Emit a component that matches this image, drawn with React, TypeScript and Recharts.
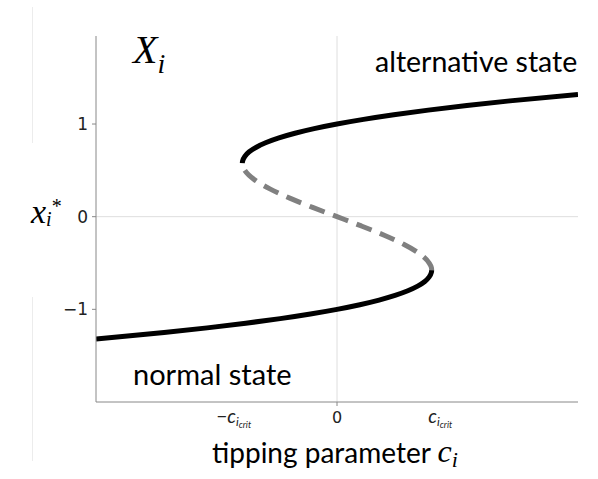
import React from 'react';
import { LineChart, Line, XAxis, YAxis, ReferenceLine } from 'recharts';

// equilibrium x* versus tipping parameter c, ordered by x* (bottom to top)
const lowerBranch = [
  { c: -0.98, x: -1.32 },
  { c: -0.703, x: -1.25 },
  { c: -0.528, x: -1.2 },
  { c: -0.371, x: -1.15 },
  { c: -0.231, x: -1.1 },
  { c: -0.108, x: -1.05 },
  { c: 0, x: -1.0 },
  { c: 0.093, x: -0.95 },
  { c: 0.171, x: -0.9 },
  { c: 0.236, x: -0.85 },
  { c: 0.288, x: -0.8 },
  { c: 0.328, x: -0.75 },
  { c: 0.357, x: -0.7 },
  { c: 0.375, x: -0.65 },
  { c: 0.384, x: -0.6 },
  { c: 0.385, x: -0.577 },
];

const middleBranch = [
  { c: 0.385, x: -0.577 },
  { c: 0.384, x: -0.55 },
  { c: 0.375, x: -0.5 },
  { c: 0.336, x: -0.4 },
  { c: 0.273, x: -0.3 },
  { c: 0.192, x: -0.2 },
  { c: 0.099, x: -0.1 },
  { c: 0, x: 0 },
  { c: -0.099, x: 0.1 },
  { c: -0.192, x: 0.2 },
  { c: -0.273, x: 0.3 },
  { c: -0.336, x: 0.4 },
  { c: -0.375, x: 0.5 },
  { c: -0.384, x: 0.55 },
  { c: -0.385, x: 0.577 },
];

const upperBranch = [
  { c: -0.385, x: 0.577 },
  { c: -0.384, x: 0.6 },
  { c: -0.375, x: 0.65 },
  { c: -0.357, x: 0.7 },
  { c: -0.328, x: 0.75 },
  { c: -0.288, x: 0.8 },
  { c: -0.236, x: 0.85 },
  { c: -0.171, x: 0.9 },
  { c: -0.093, x: 0.95 },
  { c: 0, x: 1.0 },
  { c: 0.108, x: 1.05 },
  { c: 0.231, x: 1.1 },
  { c: 0.371, x: 1.15 },
  { c: 0.528, x: 1.2 },
  { c: 0.703, x: 1.25 },
  { c: 0.98, x: 1.32 },
];

const xTicks = [-0.42, 0, 0.42];
const yTicks = [-1, 0, 1];

const serif = '"Liberation Serif", serif';
const sans = 'Lato, "Open Sans", sans-serif';

function XTick(props: any) {
  const { x, y, payload } = props;
  const v = payload.value;
  if (v === 0) {
    return (
      <g>
        <line x1={x} x2={x} y1={y - 8} y2={y - 4} stroke="#888" />
        <text x={x} y={y + 13} textAnchor="middle" fontFamily="DejaVu Sans" fontSize={16} fill="#222">
          0
        </text>
      </g>
    );
  }
  return (
    <text x={x} y={y + 13} textAnchor="middle" fontFamily={sans} fontStyle="italic" fontSize={19} fill="#222">
      {v < 0 ? '\u2212c' : 'c'}
      <tspan fontSize={12} dy={3}>i</tspan>
      <tspan fontSize={9} dy={2}>crit</tspan>
    </text>
  );
}

export default function App() {
  return (
    <div style={{ position: 'absolute', left: 0, top: 0, width: 598, height: 479, background: '#fff' }}>
      <LineChart width={598} height={479} margin={{ top: 36, right: 20, bottom: 47, left: 0 }}>
        <ReferenceLine x={0} stroke="#dedede" />
        <ReferenceLine y={0} stroke="#dedede" />
        <XAxis
          type="number"
          dataKey="c"
          domain={[-0.98, 0.98]}
          ticks={xTicks}
          allowDataOverflow
          height={30}
          stroke="#888"
          tickLine={false}
          tick={<XTick />}
        />
        <YAxis
          type="number"
          dataKey="x"
          domain={[-2, 1.95]}
          ticks={yTicks}
          allowDataOverflow
          width={96}
          stroke="#888"
          tickSize={4}
          tickMargin={4}
          tickFormatter={(v: number) => (v < 0 ? '\u2212' + Math.abs(v) : String(v))}
          tick={{ fontFamily: 'DejaVu Sans', fontSize: 17, fill: '#222' }}
        />
        <Line
          data={lowerBranch}
          dataKey="x"
          type="monotoneY"
          stroke="#000"
          strokeWidth={5}
          dot={false}
          isAnimationActive={false}
        />
        <Line
          data={middleBranch}
          dataKey="x"
          type="monotoneY"
          stroke="#808080"
          strokeWidth={5}
          strokeDasharray="16 9"
          dot={false}
          isAnimationActive={false}
        />
        <Line
          data={upperBranch}
          dataKey="x"
          type="monotoneY"
          stroke="#000"
          strokeWidth={5}
          dot={false}
          isAnimationActive={false}
        />
      </LineChart>
      <div style={{ position: 'absolute', left: 32, top: 7, width: 1, height: 136, background: '#ececec' }} />
      <div style={{ position: 'absolute', left: 32, top: 297, width: 1, height: 164, background: '#ececec' }} />
      <svg width={598} height={479} style={{ position: 'absolute', left: 0, top: 0, pointerEvents: 'none' }}>
        <text x={133} y={63} fontFamily={serif} fontStyle="italic" fontSize={40}>
          X<tspan fontSize={28} dy={10}>i</tspan>
        </text>
        <text x={31} y={223} fontFamily={serif} fontStyle="italic" fontSize={34}>
          x<tspan fontSize={20} dy={3}>i</tspan>
          <tspan fontStyle="normal" fontSize={20} dx={0} dy={-13}>*</tspan>
        </text>
        <text x={375} y={72} fontFamily={sans} fontSize={28.5}>alternative state</text>
        <text x={133} y={385} fontFamily={sans} fontSize={29}>normal state</text>
        <text x={212} y={463} fontFamily={sans} fontSize={28}>
          tipping parameter{' '}
          <tspan fontFamily={serif} fontStyle="italic" fontSize={32} dy={-1}>c</tspan>
          <tspan fontFamily={serif} fontStyle="italic" fontSize={22} dy={5}>i</tspan>
        </text>
      </svg>
    </div>
  );
}
